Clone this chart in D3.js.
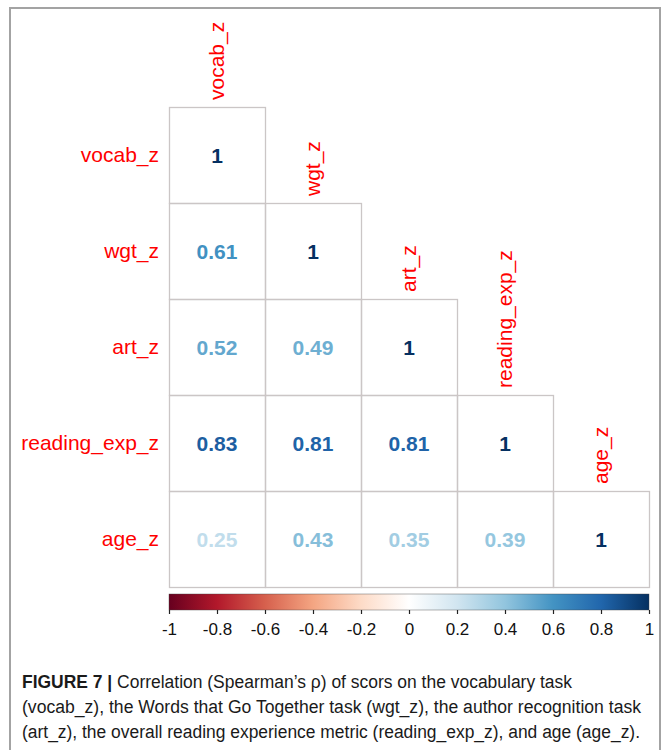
<!DOCTYPE html>
<html>
<head>
<meta charset="utf-8">
<script src="https://cdn.jsdelivr.net/npm/d3@7"></script>
<style>
  html, body { margin: 0; padding: 0; background: #fff; }
  svg { display: block; }
</style>
</head>
<body>
<svg id="chart" width="665" height="750"></svg>
<script>
// Variables in the correlation matrix
const variables = ["vocab_z", "wgt_z", "art_z", "reading_exp_z", "age_z"];

// Lower-triangle Spearman correlations, one row per variable
const rowVocab      = [1];
const rowWgt        = [0.61, 1];
const rowArt        = [0.52, 0.49, 1];
const rowReadingExp = [0.83, 0.81, 0.81, 1];
const rowAge        = [0.25, 0.43, 0.35, 0.39, 1];
const correlations = [rowVocab, rowWgt, rowArt, rowReadingExp, rowAge];

// Colour legend ticks
const legendTicks = [-1, -0.8, -0.6, -0.4, -0.2, 0, 0.2, 0.4, 0.6, 0.8, 1];
const legendTickLabels = ["-1", "-0.8", "-0.6", "-0.4", "-0.2", "0", "0.2", "0.4", "0.6", "0.8", "1"];

// Caption lines
const captionBold = "FIGURE 7 |";
const captionLines = [
  " Correlation (Spearman\u2019s \u03c1) of scors on the vocabulary task",
  "(vocab_z), the Words that Go Together task (wgt_z), the author recognition task",
  "(art_z), the overall reading experience metric (reading_exp_z), and age (age_z)."
];

// RdBu diverging palette used for the correlation colours
const paletteStops = ["#67001F", "#B2182B", "#D6604D", "#F4A582", "#FDDBC7", "#FFFFFF",
                      "#D1E5F0", "#92C5DE", "#4393C3", "#2166AC", "#053061"];
const color = d3.scaleLinear()
  .domain(d3.range(paletteStops.length).map(i => -1 + 2 * i / (paletteStops.length - 1)))
  .range(paletteStops)
  .interpolate(d3.interpolateRgb);

const svg = d3.select("#chart");
const labelFont = "'Liberation Sans', Arial, Helvetica, sans-serif";

// Outer figure frame
svg.append("path")
  .attr("d", "M10,760 L10,8 L660,8 L660,760")
  .attr("fill", "none")
  .attr("stroke", "#a3a3a3")
  .attr("stroke-width", 2);

// Matrix layout
const x = d3.scaleBand().domain(variables).range([169, 649]).padding(0);
const y = d3.scaleBand().domain(variables).range([107, 587]).padding(0);

const cells = [];
correlations.forEach((row, i) => {
  row.forEach((v, j) => cells.push({ row: variables[i], col: variables[j], value: v }));
});

const grid = svg.append("g");
grid.selectAll("rect")
  .data(cells)
  .join("rect")
  .attr("x", d => x(d.col) + 0.5)
  .attr("y", d => y(d.row) + 0.5)
  .attr("width", x.bandwidth())
  .attr("height", y.bandwidth())
  .attr("fill", "none")
  .attr("stroke", "#cbc6c6")
  .attr("stroke-width", 1.3);

grid.selectAll("text")
  .data(cells)
  .join("text")
  .attr("x", d => x(d.col) + x.bandwidth() / 2)
  .attr("y", d => y(d.row) + y.bandwidth() / 2)
  .attr("dy", "0.36em")
  .attr("text-anchor", "middle")
  .attr("font-family", labelFont)
  .attr("font-weight", "bold")
  .attr("font-size", 21)
  .attr("fill", d => color(d.value))
  .text(d => d.value === 1 ? "1" : d3.format(".2f")(d.value));

// Row labels
svg.append("g").selectAll("text")
  .data(variables)
  .join("text")
  .attr("x", 159)
  .attr("y", d => y(d) + y.bandwidth() / 2)
  .attr("dy", "0.35em")
  .attr("text-anchor", "end")
  .attr("font-family", labelFont)
  .attr("font-size", 21)
  .attr("fill", "#ff0000")
  .text(d => d);

// Column labels, rotated above the diagonal
svg.append("g").selectAll("text")
  .data(variables)
  .join("text")
  .attr("transform", d => `translate(${x(d) + x.bandwidth() / 2},${y(d) - 7}) rotate(-90)`)
  .attr("dy", "0.35em")
  .attr("text-anchor", "start")
  .attr("font-family", labelFont)
  .attr("font-size", 21)
  .attr("fill", "#ff0000")
  .text(d => d);

// Colour legend
const legendX = d3.scaleLinear().domain([-1, 1]).range([169, 649]);
const legendTop = 594, legendH = 16;
const defs = svg.append("defs");
const grad = defs.append("linearGradient").attr("id", "rdbu").attr("x1", "0%").attr("x2", "100%");
grad.selectAll("stop")
  .data(paletteStops)
  .join("stop")
  .attr("offset", (d, i) => `${100 * i / (paletteStops.length - 1)}%`)
  .attr("stop-color", d => d);

svg.append("rect")
  .attr("x", legendX(-1))
  .attr("y", legendTop)
  .attr("width", legendX(1) - legendX(-1))
  .attr("height", legendH)
  .attr("fill", "url(#rdbu)")
  .attr("stroke", "#444")
  .attr("stroke-width", 0.4);

const axis = d3.axisBottom(legendX)
  .tickValues(legendTicks)
  .tickFormat((d, i) => legendTickLabels[i])
  .tickSize(4)
  .tickPadding(9);

const axisG = svg.append("g")
  .attr("transform", `translate(0,${legendTop + legendH})`)
  .call(axis);
axisG.select(".domain").remove();
axisG.selectAll(".tick line").attr("stroke", "#222").attr("stroke-width", 1.2);
axisG.selectAll(".tick text")
  .attr("font-family", labelFont)
  .attr("font-size", 17)
  .attr("fill", "#111");

// Caption
const captionFont = "'Liberation Sans Narrow', 'Liberation Sans', Arial, sans-serif";
const capG = svg.append("g").attr("font-family", captionFont).attr("font-size", 18).attr("fill", "#1a1a1a");
const line1 = capG.append("text").attr("x", 22).attr("y", 688)
  .attr("textLength", 550).attr("lengthAdjust", "spacingAndGlyphs");
line1.append("tspan").attr("font-weight", "bold").text(captionBold);
line1.append("tspan").text(captionLines[0]);
capG.append("text").attr("x", 22).attr("y", 713)
  .attr("textLength", 619).attr("lengthAdjust", "spacingAndGlyphs")
  .text(captionLines[1]);
capG.append("text").attr("x", 22).attr("y", 738)
  .attr("textLength", 618).attr("lengthAdjust", "spacingAndGlyphs")
  .text(captionLines[2]);
</script>
</body>
</html>
